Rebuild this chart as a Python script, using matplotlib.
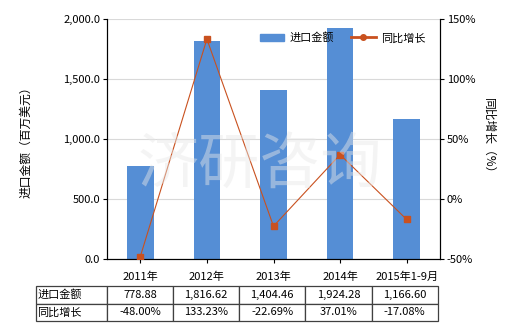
import matplotlib
matplotlib.use("Agg")
import matplotlib.pyplot as plt
import numpy as np
from matplotlib.patches import Patch
from matplotlib.lines import Line2D

plt.rcParams["font.family"] = ["Noto Sans CJK SC", "DejaVu Sans"]
plt.rcParams["axes.unicode_minus"] = False

categories = ["2011年", "2012年", "2013年", "2014年", "2015年1-9月"]
import_values = [778.88, 1816.62, 1404.46, 1924.28, 1166.60]
growth_pct = [-48.00, 133.23, -22.69, 37.01, -17.08]
import_labels = ["778.88", "1,816.62", "1,404.46", "1,924.28", "1,166.60"]
growth_labels = ["-48.00%", "133.23%", "-22.69%", "37.01%", "-17.08%"]

bar_color = "#558ED5"
line_color = "#C9511F"

fig = plt.figure(figsize=(5.2, 3.3), dpi=100)
ax = fig.add_axes([107 / 520, 1 - 259 / 330, 333 / 520, 240 / 330])
ax2 = ax.twinx()

x = np.arange(len(categories))
ax.bar(x, import_values, width=0.4, color=bar_color, zorder=2)
ax.set_xlim(-0.5, len(categories) - 0.5)
ax.set_ylim(0, 2000)
ax.set_yticks(np.arange(0, 2001, 500))
ax.set_yticklabels(["0.0", "500.0", "1,000.0", "1,500.0", "2,000.0"], fontsize=8)
ax.set_xticks(x)
ax.set_xticklabels(categories, fontsize=8)
ax.grid(axis="y", color="#D9D9D9", linewidth=0.8, zorder=0)
ax.set_axisbelow(True)
ax.tick_params(axis="both", length=3, width=0.8, pad=2)
ax.tick_params(axis="x", pad=6)
ax.spines["top"].set_visible(False)
ax.set_ylabel("进口金额（百万美元）", fontsize=8.5, labelpad=22)

ax2.plot(x, growth_pct, color=line_color, linewidth=0.8, marker="s",
         markersize=5, zorder=3)
ax2.set_ylim(-50, 150)
ax2.set_yticks(np.arange(-50, 151, 50))
ax2.set_yticklabels([f"{v}%" for v in range(-50, 151, 50)], fontsize=8)
ax2.tick_params(axis="y", length=3, width=0.8, pad=2)
ax2.spines["top"].set_visible(False)
ax2.set_ylabel("同比增长（%）", fontsize=8.5, rotation=270, labelpad=14)

# watermark
fig.text(0.5, 0.50, "济研咨询", fontsize=44, color="#E8E8E8", alpha=0.45,
         ha="center", va="center", zorder=10)

# legend
handles = [Patch(color=bar_color, label="进口金额"),
           Line2D([0], [0], color=line_color, marker="o", markersize=4,
                  linewidth=2, label="同比增长")]
fig.legend(handles=handles, loc="center left", bbox_to_anchor=(250 / 520, 1 - 38 / 330),
           ncol=2, frameon=False, fontsize=8, handlelength=2.2, columnspacing=1.5,
           handletextpad=0.5)

# data table
tax = fig.add_axes([36 / 520, 1 - 321 / 330, (437.7 - 36) / 520, 35 / 330])
tax.axis("off")
cell_text = [["进口金额"] + import_labels, ["同比增长"] + growth_labels]
col_w = [71] + [66.2] * 5
tbl = tax.table(cellText=cell_text, colWidths=col_w, bbox=[0, 0, 1, 1],
                cellLoc="center")
tbl.auto_set_font_size(False)
for (r, c), cell in tbl.get_celld().items():
    cell.set_edgecolor("#404040")
    cell.set_linewidth(0.9)
    cell.get_text().set_fontsize(8)
    if c == 0:
        cell.get_text().set_ha("left")
        cell._loc = "left"
        cell.PAD = 0.02

fig.savefig("out.png", dpi=100)
